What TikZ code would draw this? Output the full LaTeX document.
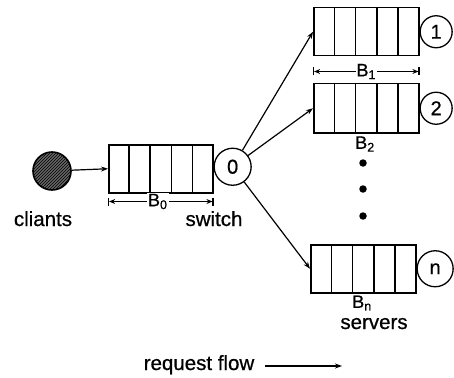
\documentclass[tikz,border=0pt]{standalone}
\usepackage{fontspec}
\setmainfont[FakeBold=0.7]{Liberation Sans}
\newfontfamily\hv[FakeBold=0.7]{Liberation Sans}
\usetikzlibrary{arrows.meta,patterns,calc}
\newcommand\qdividers[1]{\foreach \i in {1,...,4} \draw[qline] ($(#1.north west)!\i/5!(#1.north east)$) -- ($(#1.south west)!\i/5!(#1.south east)$);}
\begin{document}
\begin{tikzpicture}[x=1pt,y=-1pt,
 qline/.style={line width=1.5pt},
 qbox/.style={draw,line width=1.5pt,minimum width=105pt,minimum height=48pt,inner sep=0pt,anchor=north west},
 srv/.style={draw,circle,line width=1.3pt,minimum size=32pt,inner sep=0pt,font=\hv\fontsize{20}{20}\selectfont},
 flow/.style={-{Stealth[length=7pt,width=5pt]},line width=1.2pt},
 dim/.style={{Bar[width=8pt].Stealth[length=6pt,width=5pt]}-{Stealth[length=6pt,width=5pt].Bar[width=8pt]},line width=1.1pt},
 lbl/.style={font=\hv\fontsize{20.5}{20}\selectfont,anchor=base,inner sep=0pt},
 blbl/.style={font=\hv\fontsize{18}{18}\selectfont,fill=white,inner sep=1pt},
 dot/.style={circle,fill=black,minimum size=7.5pt,inner sep=0pt},
]
\useasboundingbox (0,0) rectangle (454,377);
% clients
\node[draw,circle,line width=1.6pt,minimum size=38pt,fill=black!60,postaction={pattern=north east lines}] (cl) at (52,171) {};
\node[lbl] (cltxt) at (43,226) {cliants};
% switch queue
\node[qbox,minimum width=104pt] (q0) at (108,144) {};
\qdividers{q0}
\node[srv,minimum size=37pt,anchor=west] (c0) at ([yshift=2pt]q0.east) {0};
\node[lbl] (swtxt) at (214,226) {switch};
\draw[flow] (cl) -- (q0.west);
\draw[dim] ([yshift=-8pt]q0.south west) -- ([yshift=-8pt]q0.south east) node[midway,blbl,xshift=-3pt] (b0) {B\textsubscript{0}};
% server 1
\node[qbox] (q1) at (313,7) {};
\qdividers{q1}
\node[srv,anchor=west] (c1) at (q1.east) {1};
\draw[dim] ([yshift=-15pt]q1.south west) -- ([yshift=-15pt]q1.south east) node[midway,blbl] (b1) {B\textsubscript{1}};
% server 2
\node[qbox,minimum height=49pt] (q2) at (313,83) {};
\qdividers{q2}
\node[srv,anchor=west] (c2) at (q2.east) {2};
\node[blbl] (b2) at (365,144) {B\textsubscript{2}};
% dots
\node[dot] (d1) at (363,163) {};
\node[dot] (d2) at (363,189) {};
\node[dot] (d3) at (363,216) {};
% server n
\node[qbox] (qn) at (310,244) {};
\qdividers{qn}
\node[srv,minimum size=36pt,anchor=west] (cn) at (qn.east) {n};
\node[blbl] (bn) at (362,303) {B\textsubscript{n}};
\node[lbl] (srvtxt) at (374,329) {servers};
% fan out
\draw[flow] (c0) -- (q1.west);
\draw[flow] (c0) -- (q2.west);
\draw[flow] (c0) -- (qn.west);
% request flow
\node[lbl] (rf) at (199,370) {request flow};
\coordinate (rfs) at (265,366);
\coordinate (rfe) at (342,366);
\draw[flow] (rfs) -- (rfe);
\end{tikzpicture}
\end{document}
